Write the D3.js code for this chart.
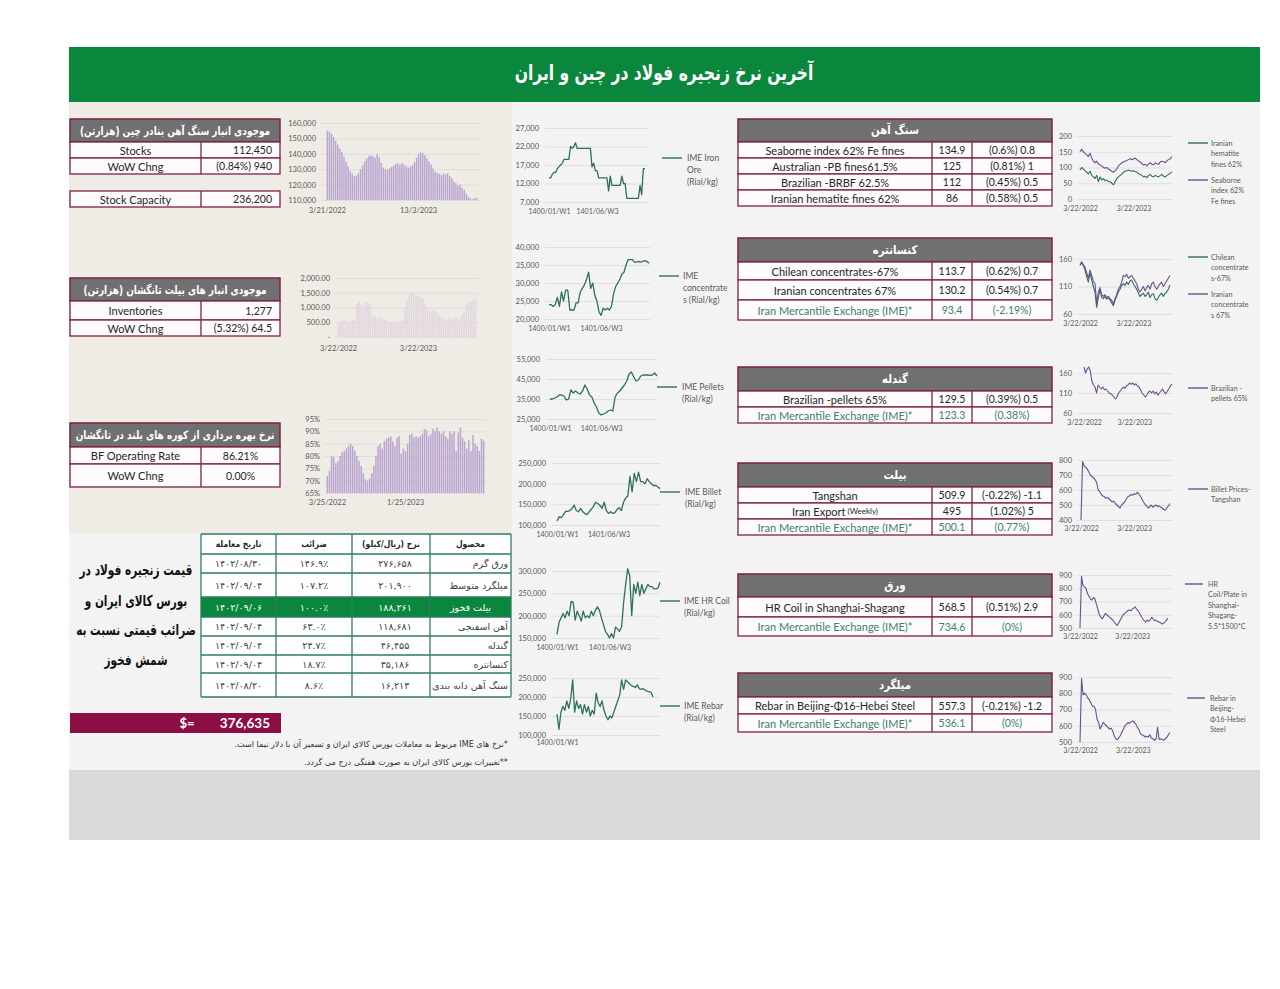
<!DOCTYPE html>
<html lang="fa">
<head>
<meta charset="UTF-8">
<title>Steel chain prices</title>
<style>
  body { margin: 0; background: #fff; }
  svg text { font-family: Lato, 'DejaVu Sans', sans-serif; }
  .fa { font-family: 'DejaVu Sans', sans-serif; }
  .ax text { fill: #595959; font-size: 7.5px; font-family: Lato, sans-serif; }
  .ax line { stroke: #d9d9d9; stroke-width: 0.8; }
  .ax path { display: none; }
</style>
</head>
<body>
<svg id="c" width="1280" height="989"></svg>
<script src="https://d3js.org/d3.v7.min.js"></script>
<script>
// ---------- data ----------
const stockBars = [155000,154500,153000,151000,148500,146000,143500,141000,138000,135000,
  132000,129000,127000,125500,126000,127500,130000,132500,135000,137000,
  138500,139000,138500,137500,140000,138000,134000,131000,130000,129500,
  130500,131500,132500,133500,134000,133000,134000,133000,132000,131000,
  131500,132500,134500,137500,140000,141000,140500,139000,137000,135000,
  133000,130500,128500,127500,127000,126000,127000,126500,127500,125500,
  124000,122000,121000,119500,120000,118000,116500,114000,112000,111000,
  110500,111200,111500];
const stockTicks = [110000,120000,130000,140000,150000,160000];
const stockDates = [[0,'3/21/2022'],[44,'13/3/2023']];

const billetInv = [480,560,590,570,520,470,550,600,1120,1180,
  1100,1050,1180,1150,1100,720,690,660,700,640,
  600,560,520,480,450,430,470,520,600,1000,
  1250,1420,1480,1460,1420,1380,1350,1300,1100,950,
  820,880,920,850,720,650,600,560,620,660,
  600,680,640,580,700,820,1100,1150,1200,1250,1277];
const billetInvTicks = [0,500,1000,1500,2000];
const billetInvDates = [[0,'3/22/2022'],[35,'3/22/2023']];

const bfRate = [72,74,80,79.5,77,78,80,81.5,82,83,
  84,85,84,82,80,78,76,73,70.5,70,
  71,73,76,80,84,85,83,86,87,87.5,
  88,86,84,87.5,88,81,83,82,85,88.5,
  89,87.5,88,87.5,88,89,91,90.5,88,89,
  91,90,91.5,90,89,90,88,87,90,89,
  90,82,89.5,91.5,87.5,86,83,86.5,82,88.5,
  85,84,82,87,86.2];
const bfTicks = [65,70,75,80,85,90,95];
const bfDates = [[0,'3/25/2022'],[37,'1/25/2023']];

// IME weekly series (Rial/kg)
const imeIronOre = [13500,13500,14500,15000,15000,16000,16500,17000,17500,18500,
  18500,18500,18500,22000,21500,22000,23000,21500,21500,21500,
  21500,21500,21500,21500,21500,21500,16500,17500,15500,15500,
  13500,13500,13500,13500,13500,13500,10000,14000,11500,11500,
  11500,11500,11500,11500,14000,12000,12000,8000,8000,8000,
  8000,8000,8000,8000,8000,11500,9000,16000,16000];
const imeConc = [24000,24000,23500,24000,26000,23500,27500,25000,28000,28000,
  22500,22500,22500,24500,24500,27500,28500,29500,31000,33000,
  28500,30000,26500,25000,22000,21000,23000,22500,23000,22500,
  23500,27000,29000,30000,31000,32500,33000,35000,36500,36500,
  36500,35800,35800,36000,35800,36000,36200,36000,35500];
const imePellets = [35000,35000,35500,36000,37000,37000,36500,34500,35000,39500,
  38000,39000,38000,37500,39000,42000,40000,37000,36000,33000,
  31000,28000,27000,27500,28000,29000,29500,29000,36000,38000,
  39000,40500,42000,44000,47500,48500,46000,44000,44500,46500,
  47000,47000,47000,46800,47000,48000,46500];
const imeBillet = [110000,120000,118000,125000,133000,133000,135000,140000,148000,135000,
  132000,140000,132000,128000,125000,132000,138000,145000,155000,152000,
  148000,140000,155000,135000,128000,132000,128000,130000,138000,142000,
  135000,155000,165000,170000,218000,180000,225000,205000,228000,205000,
  205000,200000,212000,205000,200000,195000,196000,192000,188000];
const imeHrc = [158000,185000,195000,205000,195000,210000,200000,232000,230000,190000,
  210000,200000,188000,210000,195000,200000,195000,210000,200000,212000,
  220000,212000,195000,180000,165000,158000,150000,160000,150000,175000,
  170000,165000,175000,230000,270000,305000,290000,200000,270000,250000,
  275000,245000,270000,250000,260000,270000,265000,265000,260000,260000,
  262000,275000];
const imeRebar = [155000,115000,160000,175000,165000,190000,170000,195000,245000,160000,
  190000,170000,180000,155000,180000,160000,175000,150000,165000,155000,
  210000,185000,175000,190000,165000,150000,140000,150000,145000,160000,
  175000,190000,205000,245000,220000,245000,240000,235000,230000,228000,
  225000,232000,222000,220000,222000,218000,215000,214000,212000,200000];
const weekLabels = ['1400/01/W1','1401/06/W3'];

// international prices ($/t)
const seaborne62 = [150,158,150,145,140,135,145,130,120,115,
  120,110,108,105,100,98,100,95,92,88,
  85,90,95,105,110,115,118,120,122,125,
  128,125,127,130,125,120,118,112,108,110,
  105,112,115,110,108,115,112,110,118,120,
  118,115,122,125,128,135];
const iranHematite = [92,100,95,90,85,80,88,75,70,65,
  75,55,70,60,65,58,60,55,55,50,
  45,55,65,70,75,80,85,88,90,92,
  90,88,90,87,85,80,78,75,70,72,
  68,75,78,72,70,75,72,70,75,78,
  72,70,75,78,82,86];
const iranConc67 = [148,155,150,145,135,125,140,130,120,115,
  80,100,108,95,92,95,90,92,88,85,
  78,88,95,105,110,118,130,128,132,125,
  128,130,125,120,115,105,100,105,110,102,
  108,112,105,115,118,110,105,110,115,118,
  110,115,120,125,130];
const chileConc67 = [150,153,148,140,128,118,135,122,110,100,
  72,90,105,90,88,92,87,90,85,80,
  75,85,92,100,105,112,115,112,118,114,
  120,122,115,110,105,98,92,95,98,92,
  95,100,90,95,97,88,85,90,95,98,
  92,97,100,105,113];
const brazilPellets = [175,160,170,175,165,140,130,125,110,130,
  125,120,125,118,120,115,110,108,105,100,
  95,100,110,115,120,125,122,128,130,135,
  132,135,130,133,128,125,118,110,105,100,
  105,112,115,110,115,108,112,105,110,115,
  120,112,108,115,120,128,132];
const tangshanBillet = [400,790,760,750,740,720,700,690,680,670,
  650,600,590,570,560,555,545,550,540,530,
  520,525,510,500,490,480,500,510,520,540,
  555,560,570,565,575,570,585,575,560,540,
  520,505,495,480,490,500,485,495,500,490,
  495,485,480,470,465,480,495,510];
const shanghaiHrc = [500,890,820,810,800,760,740,720,710,730,
  720,680,640,600,580,570,590,610,600,590,
  580,570,560,545,530,520,540,560,580,600,
  610,620,630,635,630,640,650,660,640,630,
  610,590,570,555,545,560,550,560,580,570,
  555,560,550,545,540,530,535,545,560,575];
const beijingRebar = [500,890,790,800,790,770,760,740,720,720,
  700,640,620,580,600,620,610,600,590,580,
  585,570,540,520,515,525,540,560,580,600,
  610,620,615,625,630,620,610,590,575,550,
  545,540,530,535,530,545,525,520,510,520,
  590,515,520,515,510,520,530,545,560];
const dateLabels = ['3/22/2022','3/22/2023'];

// tables
const stockRows = [['Stocks','112,450'],['WoW Chng','(0.84%) 940']];
const capacityRows = [['Stock Capacity','236,200']];
const billetInvRows = [['Inventories','1,277'],['WoW Chng','(5.32%) 64.5']];
const bfRows = [['BF Operating Rate','86.21%'],['WoW Chng','0.00%']];

const oreRows = [['Seaborne index 62% Fe fines','134.9','(0.6%) 0.8'],
  ['Australian -PB fines61.5%','125','(0.81%) 1'],
  ['Brazilian -BRBF 62.5%','112','(0.45%) 0.5'],
  ['Iranian hematite fines 62%','86','(0.58%) 0.5']];
const concRows = [['Chilean concentrates-67%','113.7','(0.62%) 0.7'],
  ['Iranian concentrates 67%','130.2','(0.54%) 0.7'],
  ['Iran Mercantile Exchange (IME)*','93.4','(-2.19%)']];
const pelletRows = [['Brazilian -pellets 65%','129.5','(0.39%) 0.5'],
  ['Iran Mercantile Exchange (IME)*','123.3','(0.38%)']];
const billetRows = [['Tangshan','509.9','(-0.22%) -1.1'],
  ['Iran Export','495','(1.02%) 5'],
  ['Iran Mercantile Exchange (IME)*','500.1','(0.77%)']];
const sheetRows = [['HR Coil in Shanghai-Shagang','568.5','(0.51%) 2.9'],
  ['Iran Mercantile Exchange (IME)*','734.6','(0%)']];
const rebarRows = [['Rebar in Beijing-Φ16-Hebei Steel','557.3','(-0.21%) -1.2'],
  ['Iran Mercantile Exchange (IME)*','536.1','(0%)']];

const chainHead = ['تاریخ معامله','ضرائب','نرخ (ریال/کیلو)','محصول'];
const chainProducts = ['ورق گرم','میلگرد متوسط','بیلت فخوز','آهن اسفنجی','گندله','کنسانتره','سنگ آهن دانه بندی'];
const chainPrices = ['۲۷۶,۶۵۸','۲۰۱,۹۰۰','۱۸۸,۲۶۱','۱۱۸,۶۸۱','۴۶,۴۵۵','۳۵,۱۸۶','۱۶,۲۱۳'];
const chainRatios = ['۱۴۶.۹٪','۱۰۷.۲٪','۱۰۰.۰٪','۶۳.۰٪','۲۴.۷٪','۱۸.۷٪','۸.۶٪'];
const chainDates = ['۱۴۰۲/۰۸/۳۰','۱۴۰۲/۰۹/۰۴','۱۴۰۲/۰۹/۰۶','۱۴۰۲/۰۹/۰۴','۱۴۰۲/۰۹/۰۴','۱۴۰۲/۰۹/۰۴','۱۴۰۲/۰۸/۲۰'];

// ---------- drawing ----------
const svg = d3.select('#c');
const MAROON = '#7e1f47', HEAD = '#707070', TEAL = '#2f6f60', PURPLE = '#6c4f91', IMETXT = '#3f8070';
const GREEN = '#0b873d';

function T(g, x, y, s, o) {
  o = o || {};
  const t = g.append('text').attr('x', x).attr('y', y).text(s)
    .attr('text-anchor', o.a || 'middle').attr('font-size', o.fs || 11)
    .attr('fill', o.c || '#262626').attr('dominant-baseline', 'central');
  if (o.b) t.attr('font-weight', 'bold');
  if (o.fa) t.attr('class', 'fa').attr('direction', 'rtl');
  const sx = o.sx || 1;
  let cx = x;
  if (o.right !== undefined) { // right-align by measuring (safe for rtl)
    const w = t.node().getComputedTextLength() * sx;
    t.attr('text-anchor', 'middle');
    cx = o.right - w / 2;
  }
  if (sx !== 1) { // squeeze wide DejaVu glyphs horizontally
    t.attr('x', 0).attr('y', 0).attr('transform', `translate(${cx},${y}) scale(${sx},1)`);
  } else {
    t.attr('x', cx);
  }
  return t;
}

// backgrounds
svg.append('rect').attr('x', 69).attr('y', 47).attr('width', 1191).attr('height', 55).attr('fill', GREEN);
svg.append('rect').attr('x', 69).attr('y', 102).attr('width', 1191).attr('height', 668).attr('fill', '#f3f3f3');
svg.append('rect').attr('x', 69).attr('y', 102).attr('width', 443).attr('height', 431).attr('fill', '#eeece4');
svg.append('rect').attr('x', 69).attr('y', 770).attr('width', 1191).attr('height', 70).attr('fill', '#d9d9d9');
T(svg, 664, 73, 'آخرین نرخ زنجیره فولاد در چین و ایران', {fa: 1, b: 1, fs: 21, c: '#fff', sx: 0.74});

// left small tables
function leftTable(x, y, w, div, title, headH, rows, rowHs, align, sx) {
  const g = svg.append('g');
  let yy = y;
  if (title) {
    g.append('rect').attr('x', x).attr('y', y).attr('width', w).attr('height', headH)
      .attr('fill', HEAD).attr('stroke', MAROON).attr('stroke-width', 1.5);
    T(g, x + w / 2, y + headH / 2, title, {fa: 1, b: 1, fs: 11.5, c: '#fff', sx: sx});
    yy += headH;
  }
  rows.forEach((r, i) => {
    const h = rowHs[i];
    g.append('rect').attr('x', x).attr('y', yy).attr('width', w).attr('height', h)
      .attr('fill', '#fdfbfc').attr('stroke', MAROON).attr('stroke-width', 1.3);
    g.append('line').attr('x1', div).attr('x2', div).attr('y1', yy).attr('y2', yy + h)
      .attr('stroke', MAROON).attr('stroke-width', 1.3);
    T(g, (x + div) / 2, yy + h / 2, r[0], {fs: 11});
    if (align === 'right') T(g, x + w - 8, yy + h / 2, r[1], {a: 'end', fs: 10.5});
    else T(g, (div + x + w) / 2, yy + h / 2, r[1], {fs: 10.5});
    yy += h;
  });
}
leftTable(70, 119, 210, 201, 'موجودی انبار سنگ آهن بنادر چین (هزارتن)', 23, stockRows, [16, 16], 'right', 0.78);
leftTable(70, 191, 210, 201, null, 0, capacityRows, [16], 'right');
leftTable(70, 278, 210, 201, 'موجودی انبار های بیلت تانگشان (هزارتن)', 23, billetInvRows, [19, 16], 'right', 0.78);
leftTable(70, 423, 210, 201, 'نرخ بهره برداری از کوره های بلند در تانگشان', 24, bfRows, [17, 23], 'middle', 0.78);

// bar charts
function barChart(o) {
  const x = d3.scaleBand().domain(d3.range(o.vals.length)).range([o.bx0, o.bx1]).padding(0.3);
  const y = d3.scaleLinear().domain([o.ticks[0], o.ticks[o.ticks.length - 1]]).range([o.yBot, o.yTop]);
  svg.append('g').attr('class', 'ax').attr('transform', `translate(${o.gx0},0)`)
    .call(d3.axisLeft(y).tickValues(o.ticks).tickSize(-(o.gx1 - o.gx0)).tickPadding(5).tickFormat(o.fmt));
  svg.append('g').selectAll('rect').data(o.vals).enter().append('rect')
    .attr('x', (d, i) => x(i)).attr('width', x.bandwidth())
    .attr('y', d => y(d)).attr('height', d => o.yBot - y(d)).attr('fill', o.color);
  const lab = new Map(o.dates);
  const ax = svg.append('g').attr('class', 'ax').attr('transform', `translate(0,${o.labelY})`)
    .call(d3.axisBottom(x).tickValues(o.dates.map(d => d[0])).tickSize(0).tickFormat(i => lab.get(i)));
  ax.selectAll('text').attr('y', 0).attr('dy', '0.35em').style('font-size', '7.5px');
}
barChart({vals: stockBars, ticks: stockTicks, fmt: d3.format(','), dates: stockDates,
  gx0: 321, gx1: 480, bx0: 326, bx1: 478, yTop: 123, yBot: 200, labelY: 210, color: '#b9a4d0'});
barChart({vals: billetInv, ticks: billetInvTicks, fmt: d => d === 0 ? '-' : d3.format(',.2f')(d), dates: billetInvDates,
  gx0: 335, gx1: 478, bx0: 337, bx1: 477, yTop: 278, yBot: 337, labelY: 348, color: '#e2d6df'});
barChart({vals: bfRate, ticks: bfTicks, fmt: d => d + '%', dates: bfDates,
  gx0: 325, gx1: 486, bx0: 326, bx1: 485, yTop: 419, yBot: 493, labelY: 502, color: '#b9a4d0'});

// line charts
function lineChart(o) {
  const n = o.series[0].v.length;
  const x = d3.scaleLinear().domain([0, n - 1]).range([o.lx0, o.lx1]);
  const y = d3.scaleLinear().domain([o.ticks[0], o.ticks[o.ticks.length - 1]]).range([o.yBot, o.yTop]);
  svg.append('g').attr('class', 'ax').attr('transform', `translate(${o.gx0},0)`)
    .call(d3.axisLeft(y).tickValues(o.ticks).tickSize(-(o.gx1 - o.gx0)).tickPadding(o.pad || 6)
      .tickFormat(o.fmt || d3.format(',')));
  const line = d3.line().x((d, i) => x(i)).y(d => y(d));
  o.series.forEach(s => {
    svg.append('path').datum(s.v).attr('d', line).attr('fill', 'none')
      .attr('stroke', s.c).attr('stroke-width', o.sw || 1.3).attr('stroke-linejoin', 'round');
  });
  const ax = svg.append('g').attr('class', 'ax').attr('transform', `translate(0,${o.labelY})`)
    .call(d3.axisBottom(x).tickValues(o.xTicks).tickSize(0).tickFormat((d, i) => o.xLabels[i]));
  ax.selectAll('text').attr('y', 0).attr('dy', '0.35em').style('font-size', (o.xfs || 7) + 'px');
  o.legend.forEach((l, k) => {
    svg.append('line').attr('x1', o.legX0).attr('x2', o.legX1).attr('y1', l.y).attr('y2', l.y)
      .attr('stroke', o.series[k].c).attr('stroke-width', 1.4);
    l.t.forEach((s, j) => T(svg, o.legTX, l.y + j * o.lh, s, {a: 'start', fs: o.lfs, c: '#595959'}));
  });
}

// middle IME charts
const mid = {gx0: 545, pad: 6, sw: 1.3, lfs: 8.5, lh: 12, xfs: 7};
lineChart(Object.assign({}, mid, {series: [{v: imeIronOre, c: TEAL}], ticks: [7000,12000,17000,22000,27000],
  gx1: 648, lx0: 549, lx1: 645, yTop: 128, yBot: 202, labelY: 212, xTicks: [0, 29], xLabels: weekLabels,
  legX0: 662, legX1: 682, legTX: 687, legend: [{y: 158, t: ['IME Iron', 'Ore', '(Rial/kg)']}]}));
lineChart(Object.assign({}, mid, {series: [{v: imeConc, c: TEAL}], ticks: [20000,25000,30000,35000,40000],
  gx1: 650, lx0: 549, lx1: 649, yTop: 247, yBot: 319, labelY: 329, xTicks: [0, 25], xLabels: weekLabels,
  legX0: 659, legX1: 679, legTX: 683, legend: [{y: 276, t: ['IME', 'concentrate', 's (Rial/kg)']}]}));
lineChart(Object.assign({}, mid, {series: [{v: imePellets, c: TEAL}], ticks: [25000,35000,45000,55000],
  gx0: 546, gx1: 657, lx0: 550, lx1: 657, yTop: 359, yBot: 419, labelY: 429, xTicks: [0, 22], xLabels: weekLabels,
  legX0: 657, legX1: 677, legTX: 682, legend: [{y: 387, t: ['IME Pellets', '(Rial/kg)']}]}));
lineChart(Object.assign({}, mid, {series: [{v: imeBillet, c: TEAL}], ticks: [100000,150000,200000,250000],
  gx0: 552, gx1: 660, lx0: 557, lx1: 660, yTop: 463, yBot: 525, labelY: 535, xTicks: [0, 24], xLabels: weekLabels,
  legX0: 660, legX1: 680, legTX: 685, legend: [{y: 492, t: ['IME Billet', '(Rial/kg)']}]}));
lineChart(Object.assign({}, mid, {series: [{v: imeHrc, c: TEAL}], ticks: [150000,200000,250000,300000],
  gx0: 552, gx1: 660, lx0: 557, lx1: 660, yTop: 571, yBot: 638, labelY: 648, xTicks: [0, 26], xLabels: weekLabels,
  legX0: 660, legX1: 680, legTX: 684, legend: [{y: 601, t: ['IME HR Coil', '(Rial/kg)']}]}));
lineChart(Object.assign({}, mid, {series: [{v: imeRebar, c: TEAL}], ticks: [100000,150000,200000,250000],
  gx0: 552, gx1: 660, lx0: 557, lx1: 653, yTop: 678, yBot: 735, labelY: 743, xTicks: [0], xLabels: weekLabels,
  legX0: 660, legX1: 680, legTX: 684, legend: [{y: 706, t: ['IME Rebar', '(Rial/kg)']}]}));

// right international charts
const rc = {gx0: 1077, gx1: 1172, pad: 5, sw: 1.1, lfs: 7.2, lh: 10.5, xfs: 7, legX0: 1188, legX1: 1208, legTX: 1211};
lineChart(Object.assign({}, rc, {series: [{v: iranHematite, c: TEAL}, {v: seaborne62, c: PURPLE}],
  ticks: [0,50,100,150,200], lx0: 1080, lx1: 1172, yTop: 136, yBot: 199, labelY: 209, xTicks: [0, 32], xLabels: dateLabels,
  legend: [{y: 143, t: ['Iranian', 'hematite', 'fines 62%']}, {y: 180, t: ['Seaborne', 'index 62%', 'Fe fines']}]}));
lineChart(Object.assign({}, rc, {series: [{v: chileConc67, c: TEAL}, {v: iranConc67, c: PURPLE}],
  ticks: [60,110,160], lx0: 1080, lx1: 1170, yTop: 259, yBot: 314, labelY: 324, xTicks: [0, 32], xLabels: dateLabels,
  legend: [{y: 257, t: ['Chilean', 'concentrate', 's-67%']}, {y: 294, t: ['Iranian', 'concentrate', 's 67%']}]}));
lineChart(Object.assign({}, rc, {series: [{v: brazilPellets, c: PURPLE}],
  ticks: [60,110,160], lx0: 1084, lx1: 1172, yTop: 373, yBot: 413, labelY: 423, xTicks: [0, 32], xLabels: dateLabels,
  legend: [{y: 388, t: ['Brazilian -', 'pellets 65%']}]}));
lineChart(Object.assign({}, rc, {series: [{v: tangshanBillet, c: PURPLE}],
  ticks: [400,500,600,700,800], lx0: 1081, lx1: 1170, yTop: 460, yBot: 520, labelY: 529, xTicks: [0, 34], xLabels: dateLabels,
  legend: [{y: 489, t: ['Billet Prices-', 'Tangshan']}]}));
lineChart(Object.assign({}, rc, {series: [{v: shanghaiHrc, c: PURPLE}], legX0: 1185, legX1: 1203, legTX: 1208,
  ticks: [500,600,700,800,900], lx0: 1080, lx1: 1168, yTop: 575, yBot: 628, labelY: 637, xTicks: [0, 35], xLabels: dateLabels,
  legend: [{y: 584, t: ['HR', 'Coil/Plate in', 'Shanghai-', 'Shagang-', '5.5*1500*C']}]}));
lineChart(Object.assign({}, rc, {series: [{v: beijingRebar, c: PURPLE}], legX0: 1187, legX1: 1205, legTX: 1210,
  ticks: [500,600,700,800,900], lx0: 1080, lx1: 1170, yTop: 677, yBot: 742, labelY: 751, xTicks: [0, 34], xLabels: dateLabels,
  legend: [{y: 698, t: ['Rebar in', 'Beijing-', 'Φ16-Hebei', 'Steel']}]}));

// right price tables
function rightTable(y, headH, title, rows, rowHs) {
  const x = 738, w = 314, d1 = 932, d2 = 972;
  const g = svg.append('g');
  g.append('rect').attr('x', x).attr('y', y).attr('width', w).attr('height', headH)
    .attr('fill', HEAD).attr('stroke', MAROON).attr('stroke-width', 1.5);
  T(g, x + w / 2, y + headH / 2, title, {fa: 1, b: 1, fs: 12, c: '#fff', sx: 0.85});
  let yy = y + headH;
  rows.forEach((r, i) => {
    const h = rowHs[i];
    const ime = r[0].startsWith('Iran Mercantile');
    g.append('rect').attr('x', x).attr('y', yy).attr('width', w).attr('height', h)
      .attr('fill', '#fdfbfc').attr('stroke', MAROON).attr('stroke-width', 1.3);
    [d1, d2].forEach(d => g.append('line').attr('x1', d).attr('x2', d).attr('y1', yy).attr('y2', yy + h)
      .attr('stroke', MAROON).attr('stroke-width', 1.3));
    const c = ime ? IMETXT : '#262626';
    const t = T(g, (x + d1) / 2, yy + h / 2, r[0], {fs: 11, c: c});
    if (r[0] === 'Iran Export') t.append('tspan').attr('font-size', 8).text(' (Weekly)');
    T(g, (d1 + d2) / 2, yy + h / 2, r[1], {fs: 10.5, c: c});
    T(g, (d2 + x + w) / 2, yy + h / 2, r[2], {fs: 10.5, c: c});
    yy += h;
  });
}
rightTable(119, 23, 'سنگ آهن', oreRows, [16, 16, 16, 16]);
rightTable(238, 24, 'کنسانتره', concRows, [18, 20, 20]);
rightTable(367, 24, 'گندله', pelletRows, [16, 16]);
rightTable(463, 24, 'بیلت', billetRows, [16, 16, 16]);
rightTable(574, 23, 'ورق', sheetRows, [20, 19]);
rightTable(673, 24, 'میلگرد', rebarRows, [17, 18]);

// bottom-left IME chain table
(function () {
  const g = svg.append('g');
  const cols = [201, 276, 352, 430, 511];
  const rowY = [534, 554, 573, 597, 617, 636, 655, 673, 697];
  const BT = '#2e7a68';
  g.append('rect').attr('x', cols[0]).attr('y', rowY[0]).attr('width', cols[4] - cols[0]).attr('height', rowY[8] - rowY[0])
    .attr('fill', '#fff');
  // highlight row (بیلت فخوز)
  g.append('rect').attr('x', cols[0]).attr('y', rowY[3]).attr('width', cols[4] - cols[0]).attr('height', rowY[4] - rowY[3])
    .attr('fill', GREEN);
  rowY.forEach(v => g.append('line').attr('x1', cols[0]).attr('x2', cols[4]).attr('y1', v).attr('y2', v)
    .attr('stroke', BT).attr('stroke-width', 1.3));
  cols.forEach(v => g.append('line').attr('x1', v).attr('x2', v).attr('y1', rowY[0]).attr('y2', rowY[8])
    .attr('stroke', BT).attr('stroke-width', 1.3));
  chainHead.forEach((h, i) => T(g, (cols[i] + cols[i + 1]) / 2, (rowY[0] + rowY[1]) / 2, h, {fa: 1, b: 1, fs: 9, sx: 0.85}));
  chainProducts.forEach((p, i) => {
    const cy = (rowY[i + 1] + rowY[i + 2]) / 2;
    const hi = p === 'بیلت فخوز';
    const c = hi ? '#fff' : '#404040';
    T(g, (cols[0] + cols[1]) / 2, cy, chainDates[i], {fa: 1, fs: 9.5, c: c});
    T(g, (cols[1] + cols[2]) / 2, cy, chainRatios[i], {fa: 1, fs: 9.5, c: c});
    T(g, (cols[2] + cols[3]) / 2 + 4, cy, chainPrices[i], {fa: 1, fs: 9.5, c: c});
    if (hi) T(g, (cols[3] + cols[4]) / 2, cy, p, {fa: 1, fs: 9.5, c: c});
    else T(g, 0, cy, p, {fa: 1, fs: 9.5, c: c, right: 508});
  });
})();

// side caption
['قیمت زنجیره فولاد در', 'بورس کالای ایران و', 'ضرائب قیمتی نسبت به', 'شمش فخوز']
  .forEach((s, i) => T(svg, 136, [570, 601, 630, 660][i], s, {fa: 1, b: 1, fs: 15, c: '#111', sx: 0.7}));

// dollar rate bar
svg.append('rect').attr('x', 70).attr('y', 713).attr('width', 211).attr('height', 20).attr('fill', '#8b0e45');
T(svg, 187, 723, '$=', {fs: 13, b: 1, c: '#fff'});
T(svg, 270, 723, '376,635', {fs: 13.5, b: 1, c: '#fff', a: 'end'});

// footnotes
T(svg, 0, 744, '*نرخ های IME مربوط به معاملات بورس کالای ایران و تسعیر آن با دلار نیما است.', {fa: 1, fs: 8.5, c: '#333', right: 508, sx: 0.95});
T(svg, 0, 762, '**تغییرات بورس کالای ایران به صورت هفتگی درج می گردد.', {fa: 1, fs: 8.5, c: '#333', right: 508, sx: 0.95});
</script>
</body>
</html>
